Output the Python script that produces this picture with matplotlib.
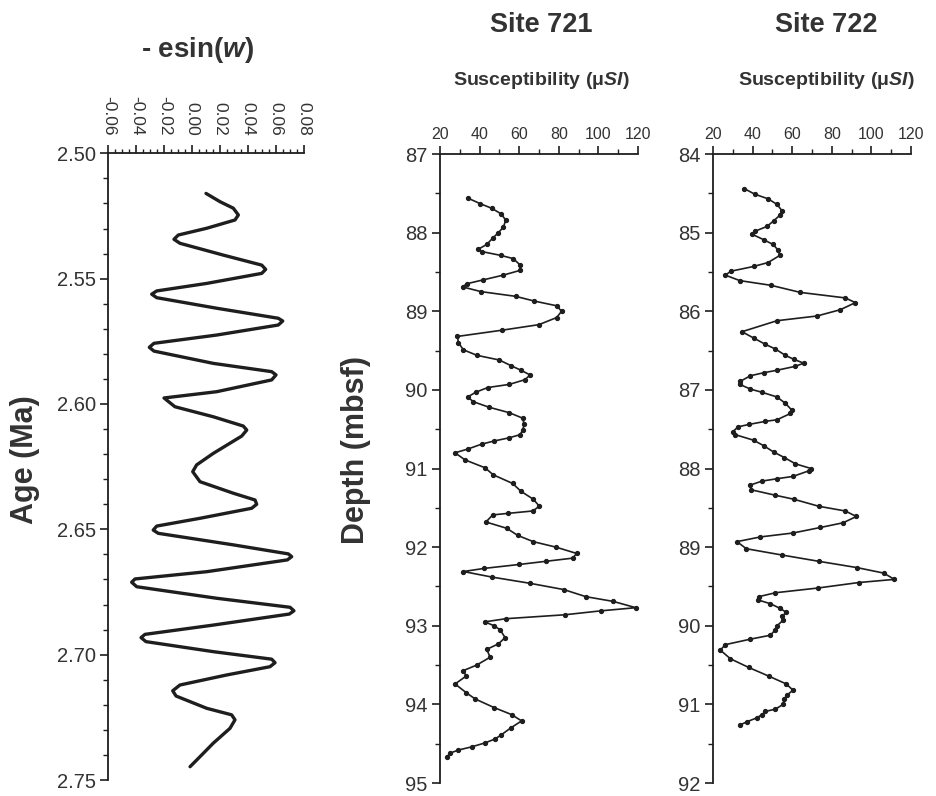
import numpy as np
import matplotlib
matplotlib.use("Agg")
import matplotlib.pyplot as plt
from matplotlib.ticker import MultipleLocator, FormatStrFormatter

plt.rcParams['font.family'] = ['Liberation Sans', 'DejaVu Sans']
plt.rcParams['axes.unicode_minus'] = False
plt.rcParams['mathtext.fontset'] = 'custom'
plt.rcParams['mathtext.rm'] = 'Liberation Sans:bold'
plt.rcParams['mathtext.it'] = 'Liberation Sans:italic:bold'

INK = '#1e1e1e'
GREY = '#333333'

# -esin(w) precession index against age
esinw_age = [2.5160, 2.5193, 2.5219, 2.5246, 2.5266, 2.5299, 2.5326, 2.5343, 2.5359, 2.5406,
             2.5446, 2.5463, 2.5479, 2.5519, 2.5549, 2.5562, 2.5576, 2.5618, 2.5658, 2.5669,
             2.5685, 2.5725, 2.5758, 2.5774, 2.5789, 2.5838, 2.5871, 2.5884, 2.5904, 2.5951,
             2.5976, 2.6011, 2.6051, 2.6088, 2.6104, 2.6128, 2.6197, 2.6243, 2.6270, 2.6310,
             2.6356, 2.6383, 2.6400, 2.6416, 2.6456, 2.6487, 2.6503, 2.6516, 2.6562, 2.6598,
             2.6609, 2.6622, 2.6669, 2.6698, 2.6711, 2.6729, 2.6775, 2.6811, 2.6825, 2.6838,
             2.6882, 2.6919, 2.6932, 2.6948, 2.6988, 2.7018, 2.7032, 2.7048, 2.7081, 2.7121,
             2.7144, 2.7165, 2.7214, 2.7240, 2.7260, 2.7294, 2.7353, 2.7407, 2.7447]
esinw = [0.0098, 0.0198, 0.0293, 0.0329, 0.0305, 0.0103, -0.0100, -0.0131, -0.0088, 0.0221,
         0.0496, 0.0524, 0.0496, 0.0103, -0.0254, -0.0290, -0.0254, 0.0174, 0.0614, 0.0646,
         0.0614, 0.0174, -0.0274, -0.0307, -0.0274, 0.0150, 0.0567, 0.0598, 0.0567, 0.0174,
         -0.0202, -0.0124, 0.0150, 0.0364, 0.0389, 0.0353, 0.0150, 0.0031, 0.0003, 0.0055,
         0.0293, 0.0448, 0.0460, 0.0424, 0.0055, -0.0254, -0.0279, -0.0243, 0.0293, 0.0686,
         0.0710, 0.0679, 0.0103, -0.0409, -0.0433, -0.0397, 0.0174, 0.0698, 0.0726, 0.0693,
         0.0150, -0.0338, -0.0366, -0.0331, 0.0150, 0.0567, 0.0591, 0.0555, 0.0246, -0.0088,
         -0.0140, -0.0116, 0.0103, 0.0281, 0.0305, 0.0269, 0.0150, 0.0055, -0.0016]

# Site 721 magnetic susceptibility
depth_721 = [87.56, 87.63, 87.69, 87.76, 87.84, 87.93, 88.00, 88.07, 88.15, 88.21,
             88.24, 88.29, 88.33, 88.41, 88.48, 88.54, 88.60, 88.65, 88.69, 88.75,
             88.81, 88.87, 88.93, 89.00, 89.08, 89.17, 89.24, 89.32, 89.40, 89.49,
             89.56, 89.62, 89.69, 89.75, 89.81, 89.87, 89.93, 89.97, 90.03, 90.09,
             90.15, 90.22, 90.29, 90.36, 90.44, 90.51, 90.57, 90.61, 90.65, 90.69,
             90.75, 90.80, 90.89, 90.99, 91.08, 91.19, 91.29, 91.39, 91.48, 91.54,
             91.57, 91.59, 91.68, 91.76, 91.85, 91.93, 92.00, 92.08, 92.14, 92.18,
             92.22, 92.27, 92.31, 92.38, 92.46, 92.54, 92.63, 92.69, 92.77, 92.81,
             92.86, 92.91, 92.95, 93.00, 93.05, 93.15, 93.23, 93.30, 93.40, 93.50,
             93.57, 93.64, 93.74, 93.85, 93.93, 94.04, 94.13, 94.21, 94.30, 94.39,
             94.44, 94.49, 94.54, 94.58, 94.62, 94.67]
chi_721 = [34.0, 40.2, 46.1, 50.8, 53.2, 52.0, 49.5, 46.6, 43.6, 39.4,
           41.0, 50.8, 57.0, 60.4, 60.4, 52.0, 41.9, 33.5, 31.4, 40.7,
           58.2, 67.6, 78.9, 81.4, 78.9, 70.0, 51.5, 28.8, 29.3, 31.8,
           38.6, 50.0, 55.7, 60.9, 65.5, 62.9, 55.0, 44.1, 38.0, 34.0,
           36.8, 44.7, 55.0, 61.8, 62.5, 61.8, 60.4, 54.8, 47.3, 41.0,
           34.3, 27.6, 32.6, 42.7, 46.9, 56.7, 60.9, 67.1, 70.2, 66.8,
           54.5, 46.6, 43.2, 53.7, 59.2, 67.1, 78.6, 89.0, 87.0, 73.5,
           60.1, 42.4, 31.8, 46.1, 65.5, 82.6, 93.7, 107.5, 118.9, 101.3,
           83.1, 53.3, 42.7, 47.3, 50.3, 52.9, 49.5, 43.6, 45.3, 38.5,
           31.8, 33.2, 27.6, 33.2, 37.7, 47.3, 56.2, 61.2, 55.7, 50.8,
           47.8, 42.7, 36.0, 29.3, 25.1, 23.4]

# Site 722 magnetic susceptibility
depth_722 = [84.44, 84.51, 84.57, 84.64, 84.72, 84.78, 84.85, 84.92, 84.98, 85.02,
             85.09, 85.15, 85.22, 85.29, 85.38, 85.43, 85.49, 85.54, 85.61, 85.67,
             85.76, 85.83, 85.89, 85.98, 86.06, 86.12, 86.26, 86.34, 86.42, 86.48,
             86.56, 86.61, 86.66, 86.70, 86.75, 86.78, 86.82, 86.89, 86.93, 86.99,
             87.03, 87.09, 87.17, 87.26, 87.30, 87.38, 87.40, 87.44, 87.47, 87.53,
             87.57, 87.64, 87.71, 87.79, 87.86, 87.94, 88.00, 88.03, 88.10, 88.13,
             88.16, 88.21, 88.27, 88.34, 88.39, 88.48, 88.54, 88.61, 88.69, 88.75,
             88.82, 88.87, 88.93, 89.02, 89.10, 89.18, 89.26, 89.33, 89.41, 89.45,
             89.52, 89.58, 89.63, 89.67, 89.72, 89.78, 89.83, 89.88, 89.93, 90.00,
             90.05, 90.12, 90.17, 90.24, 90.31, 90.42, 90.53, 90.64, 90.74, 90.82,
             90.88, 90.93, 91.00, 91.06, 91.09, 91.13, 91.17, 91.22, 91.26]
chi_722 = [35.8, 41.0, 47.8, 52.3, 54.8, 53.7, 50.6, 47.3, 41.4, 39.7,
           45.6, 50.3, 52.8, 53.7, 47.8, 40.5, 29.1, 26.2, 33.5, 49.3,
           64.1, 86.8, 91.9, 84.3, 72.5, 52.3, 34.6, 40.5, 46.4, 51.5,
           56.5, 60.7, 65.8, 61.6, 52.3, 45.9, 38.9, 33.8, 33.5, 38.9,
           44.7, 52.3, 56.5, 59.9, 59.1, 52.3, 46.4, 38.0, 32.6, 30.1,
           31.3, 40.5, 45.6, 50.6, 56.0, 61.6, 69.5, 68.3, 60.4, 52.3,
           44.7, 38.9, 39.2, 51.5, 60.7, 73.4, 86.8, 92.4, 85.7, 74.2,
           60.4, 43.9, 32.1, 36.8, 54.8, 73.4, 92.7, 106.2, 111.6, 93.6,
           72.9, 51.5, 43.1, 42.6, 49.0, 54.0, 57.0, 54.8, 55.4, 52.3,
           51.5, 49.0, 38.9, 26.2, 23.7, 28.8, 38.0, 48.1, 57.0, 60.4,
           57.4, 56.0, 55.4, 51.5, 46.4, 44.7, 42.2, 37.2, 33.8]

esinw_ticks = [-0.06, -0.04, -0.02, 0.00, 0.02, 0.04, 0.06, 0.08]
age_ticks = [2.50, 2.55, 2.60, 2.65, 2.70, 2.75]
chi_ticks = [20, 40, 60, 80, 100, 120]
depth_ticks_721 = [87, 88, 89, 90, 91, 92, 93, 94, 95]
depth_ticks_722 = [84, 85, 86, 87, 88, 89, 90, 91, 92]


def style_axis(ax):
    ax.xaxis.tick_top()
    ax.xaxis.set_label_position('top')
    for side in ['right', 'bottom']:
        ax.spines[side].set_visible(False)
    for side in ['left', 'top']:
        ax.spines[side].set_linewidth(1.3)
        ax.spines[side].set_color(INK)
    ax.tick_params(which='major', direction='out', length=6, width=1.2,
                   color=INK, labelcolor=GREY)
    ax.tick_params(which='minor', direction='out', length=3.5, width=1.0, color=INK)
    ax.tick_params(axis='y', labelsize=14.5, pad=3)
    ax.tick_params(axis='x', labelsize=11.5, pad=3)
    ax.set_facecolor('none')


fig = plt.figure(figsize=(9.36, 7.96), dpi=100)

# orbital curve
ax1 = fig.add_axes([0.1157, 0.0201, 0.2094, 0.7873])
ax1.plot(esinw, esinw_age, color=INK, lw=2.4, solid_joinstyle='round',
         solid_capstyle='round')
ax1.set_xlim(esinw_ticks[0], esinw_ticks[-1])
ax1.set_ylim(age_ticks[-1], age_ticks[0])
ax1.set_xticks(esinw_ticks)
ax1.set_xticklabels(['%.2f' % v for v in esinw_ticks], rotation=-90)
ax1.xaxis.set_minor_locator(MultipleLocator(0.005))
ax1.set_yticks(age_ticks)
ax1.yaxis.set_major_formatter(FormatStrFormatter('%.2f'))
ax1.yaxis.set_minor_locator(MultipleLocator(0.01))
style_axis(ax1)
ax1.tick_params(axis='x', labelsize=12.5, pad=7)
ax1.tick_params(axis='x', which='minor', length=3)

# susceptibility logs
sites = [
    ('Site 721', chi_721, depth_721, depth_ticks_721, 0.4701, 0.5785),
    ('Site 722', chi_722, depth_722, depth_ticks_722, 0.7618, 0.8830),
]
for name, chi, depth, dticks, left, xc in sites:
    ax = fig.add_axes([left, 0.0163, 0.2115, 0.7902])
    ax.plot(chi, depth, color=INK, lw=1.2, marker='o', ms=2.8,
            mfc=INK, mec=INK, clip_on=False)
    ax.set_xlim(chi_ticks[0], chi_ticks[-1])
    ax.set_ylim(dticks[-1], dticks[0])
    ax.set_xticks(chi_ticks)
    ax.xaxis.set_minor_locator(MultipleLocator(10))
    ax.set_yticks(dticks)
    ax.yaxis.set_minor_locator(MultipleLocator(0.5))
    style_axis(ax)
    fig.text(xc, 0.969, name, ha='center', va='center',
             fontsize=19.5, fontweight='bold', color=GREY)
    fig.text(xc, 0.899, r'Susceptibility (μ$\mathit{SI}$)', ha='center', va='center',
             fontsize=14, fontweight='bold', color=GREY)

fig.text(0.2115, 0.937, r'- esin($\mathit{w}$)', ha='center', va='center',
         fontsize=20, fontweight='bold', color=GREY)
fig.text(0.027, 0.422, 'Age (Ma)', rotation=90, ha='center', va='center',
         fontsize=22, fontweight='bold', color=GREY)
fig.text(0.380, 0.435, 'Depth (mbsf)', rotation=90, ha='center', va='center',
         fontsize=22, fontweight='bold', color=GREY)

fig.savefig('out.png', dpi=100, facecolor='white')
